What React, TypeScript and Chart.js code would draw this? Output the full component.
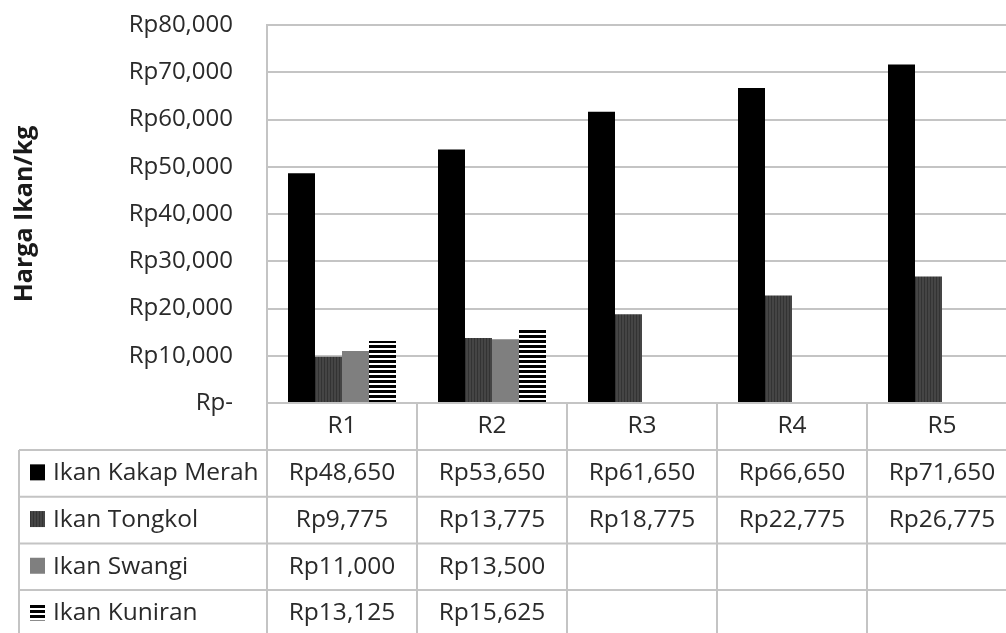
import React, { useEffect, useRef } from 'react';
import { Chart, registerables } from 'chart.js';

Chart.register(...registerables);

const categories = ['R1', 'R2', 'R3', 'R4', 'R5'];
const seriesNames = ['Ikan Kakap Merah', 'Ikan Tongkol', 'Ikan Swangi', 'Ikan Kuniran'];
const kakapMerah = [48650, 53650, 61650, 66650, 71650];
const tongkol = [9775, 13775, 18775, 22775, 26775];
const swangi = [11000, 13500, null, null, null];
const kuniran = [13125, 15625, null, null, null];
const yTickValues = [0, 10000, 20000, 30000, 40000, 50000, 60000, 70000, 80000];
const axisTitle = 'Harga Ikan/kg';

const FONT = '"Open Sans", "Noto Sans", sans-serif';
const GRID = '#c4c4c4';
const TEXT = '#2a2a2a';

const fmt = (v: number | null) => (v === null || v === undefined ? '' : v === 0 ? 'Rp-' : 'Rp' + v.toLocaleString('en-US'));

function makePattern(kind: 'v' | 'h'): CanvasPattern | string {
  const c = document.createElement('canvas');
  if (kind === 'v') {
    c.width = 3; c.height = 4;
    const g = c.getContext('2d')!;
    g.fillStyle = '#454545'; g.fillRect(0, 0, 3, 4);
    g.fillStyle = '#333333'; g.fillRect(0, 0, 1, 4);
  } else {
    c.width = 4; c.height = 5;
    const g = c.getContext('2d')!;
    g.fillStyle = '#ffffff'; g.fillRect(0, 0, 4, 5);
    g.fillStyle = '#000000'; g.fillRect(0, 0, 4, 3);
  }
  const ctx = document.createElement('canvas').getContext('2d')!;
  return ctx.createPattern(c, 'repeat') || '#444';
}

const tablePlugin = {
  id: 'dataTable',
  afterDraw(chart: any) {
    const ctx = chart.ctx as CanvasRenderingContext2D;
    const xs = chart.scales.x;
    const area = chart.chartArea;
    const n = categories.length;
    const colW = (area.right - area.left) / n;
    const headerH = 47;
    const rowH = 46.7;
    const tableLeft = 19;
    const top = area.bottom;
    const headerBottom = top + headerH;
    const bottom = headerBottom + rowH * seriesNames.length;
    ctx.save();
    ctx.strokeStyle = GRID;
    ctx.lineWidth = 2;
    ctx.beginPath();
    ctx.moveTo(tableLeft, headerBottom);
    ctx.lineTo(tableLeft, bottom);
    for (let i = 0; i <= n; i++) {
      const cx = i < n ? xs.getPixelForValue(i) - colW / 2 : xs.getPixelForValue(n - 1) + colW / 2;
      ctx.moveTo(cx, top);
      ctx.lineTo(cx, bottom);
    }
    for (let r = 0; r <= seriesNames.length; r++) {
      const y = headerBottom + r * rowH;
      ctx.moveTo(tableLeft, y);
      ctx.lineTo(area.right + 20, y);
    }
    ctx.stroke();

    ctx.fillStyle = TEXT;
    ctx.font = `24.5px ${FONT}`;
    ctx.textBaseline = 'middle';
    ctx.textAlign = 'center';
    categories.forEach((c, i) => {
      ctx.fillText(c, xs.getPixelForValue(i), top + headerH / 2);
    });
    chart.data.datasets.forEach((ds: any, r: number) => {
      const yc = headerBottom + rowH * r + rowH / 2;
      ctx.fillStyle = ds.backgroundColor;
      ctx.fillRect(30, yc - 9, 15, 16);
      ctx.fillStyle = TEXT;
      ctx.textAlign = 'left';
      ctx.fillText(ds.label, 53, yc);
      ctx.textAlign = 'center';
      ds.data.forEach((v: number | null, i: number) => {
        if (v !== null) ctx.fillText(fmt(v), xs.getPixelForValue(i), yc);
      });
    });
    ctx.restore();
  },
};

export default function App() {
  const ref = useRef<HTMLCanvasElement>(null);
  useEffect(() => {
    const canvas = ref.current!;
    Chart.defaults.font.family = FONT;
    const chart = new Chart(canvas, {
      type: 'bar',
      data: {
        labels: categories,
        datasets: [
          { label: seriesNames[0], data: kakapMerah, backgroundColor: '#000000' },
          { label: seriesNames[1], data: tongkol, backgroundColor: makePattern('v') as any },
          { label: seriesNames[2], data: swangi, backgroundColor: '#7f7f7f' },
          { label: seriesNames[3], data: kuniran, backgroundColor: makePattern('h') as any },
        ],
      },
      options: {
        animation: false,
        responsive: false,
        devicePixelRatio: 1,
        layout: { padding: { top: 25, bottom: 237, left: 0, right: 13 } },
        plugins: { legend: { display: false }, tooltip: { enabled: false } },
        datasets: { bar: { categoryPercentage: 0.72, barPercentage: 1.0 } },
        scales: {
          x: { display: false, offset: true, grid: { display: false } },
          y: {
            min: 0,
            max: 80000,
            afterBuildTicks: (scale: any) => {
              scale.ticks = yTickValues.map((v) => ({ value: v }));
            },
            afterFit: (scale: any) => {
              scale.width = 267;
              scale.paddingTop = 0;
              scale.paddingBottom = 0;
            },
            ticks: {
              padding: 34,
              color: TEXT,
              font: { size: 24, family: FONT },
              callback: (v: any) => fmt(Number(v)),
            },
            grid: { color: GRID, lineWidth: 2, drawTicks: false },
            border: { display: true, color: GRID, width: 2 },
            title: {
              display: true,
              text: axisTitle,
              color: '#1a1a1a',
              font: { size: 25, weight: 'bold', family: FONT },
              padding: { top: 10, bottom: 0 },
            },
          },
        },
      },
      plugins: [tablePlugin],
    });
    return () => chart.destroy();
  }, []);
  return (
    <div style={{ position: 'fixed', left: 0, top: 0, width: 1006, height: 633, overflow: 'hidden', background: '#fff' }}>
      <canvas ref={ref} width={1030} height={640} style={{ display: 'block', width: 1030, height: 640 }} />
    </div>
  );
}
